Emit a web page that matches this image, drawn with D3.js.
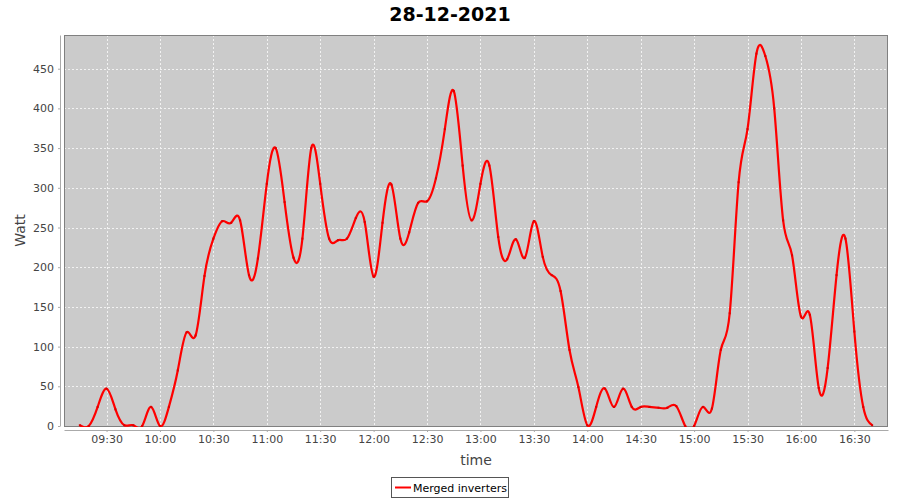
<!DOCTYPE html>
<html>
<head>
<meta charset="utf-8">
<script src="https://cdn.jsdelivr.net/npm/d3@7"></script>
<style>
  body { margin: 0; background: #fff; }
  svg { display: block; font-family: "DejaVu Sans", sans-serif; }
</style>
</head>
<body>
<svg id="chart" width="900" height="500"></svg>
<script>

// 時刻 (5 分おき)
const times = [
  "09:15", "09:20", "09:25", "09:30", "09:35", "09:40", "09:45", "09:50", "09:55",
  "10:00", "10:05", "10:10", "10:15", "10:20", "10:25", "10:30", "10:35", "10:40", "10:45", "10:50", "10:55",
  "11:00", "11:05", "11:10", "11:15", "11:20", "11:25", "11:30", "11:35", "11:40", "11:45", "11:50", "11:55",
  "12:00", "12:05", "12:10", "12:15", "12:20", "12:25", "12:30", "12:35", "12:40", "12:45", "12:50", "12:55",
  "13:00", "13:05", "13:10", "13:15", "13:20", "13:25", "13:30", "13:35", "13:40", "13:45", "13:50", "13:55",
  "14:00", "14:05", "14:10", "14:15", "14:20", "14:25", "14:30", "14:35", "14:40", "14:45", "14:50", "14:55",
  "15:00", "15:05", "15:10", "15:15", "15:20", "15:25", "15:30", "15:35", "15:40", "15:45", "15:50", "15:55",
  "16:00", "16:05", "16:10", "16:15", "16:20", "16:25", "16:30", "16:35", "16:40"
];

// 出力 (Watt)
const watts = [
  1, 0, 24, 47, 21, 1, 1, 0, 24,
  0, 24, 70, 118, 114, 189, 236, 258, 256, 259, 190, 211,
  305, 350, 282, 212, 236, 350, 305, 236, 234, 236, 262, 257,
  188, 256, 304, 236, 244, 281, 283, 312, 374, 422, 328, 259,
  305, 328, 238, 210, 235, 212, 258, 213, 190, 170, 96, 49,
  1, 24, 47, 24, 47, 24, 24, 24, 23, 23, 25, 0,
  0, 24, 22, 96, 142, 307, 374, 469, 466, 400, 259, 215,
  138, 140, 48, 73, 190, 236, 119, 24, 1
];

// 目盛り
const yTicks = [0, 50, 100, 150, 200, 250, 300, 350, 400, 450];

const title = "28-12-2021";
const seriesName = "Merged inverters";
const day = "2021-12-28";

const parse = d3.timeParse("%Y-%m-%d %H:%M");
const data = times.map((t, i) => ({ t: parse(`${day} ${t}`), v: watts[i] }));

const svg = d3.select("#chart");

// プロット領域
const pl = 64, pr = 888, pt = 35, pb = 426;

// x 方向は両端に 2% の余白
const t0 = data[0].t, t1 = data[data.length - 1].t;
const span = t1 - t0;
const x = d3.scaleTime()
  .domain([new Date(+t0 - span * 0.02), new Date(+t1 + span * 0.02)])
  .range([pl, pr]);

const y = d3.scaleLinear()
  .domain([0, d3.max(watts) * 1.05])
  .range([pb, pt]);

// 背景
svg.append("rect")
  .attr("x", pl).attr("y", pt)
  .attr("width", pr - pl).attr("height", pb - pt)
  .attr("fill", "#cbcbcb");

// グリッド
const xTicks = x.ticks(d3.timeMinute.every(30));
svg.append("g").selectAll("line")
  .data(xTicks)
  .join("line")
  .attr("x1", d => Math.round(x(d)) + 0.5).attr("x2", d => Math.round(x(d)) + 0.5)
  .attr("y1", pt).attr("y2", pb)
  .attr("stroke", "#f2f2f2").attr("stroke-width", 1)
  .attr("stroke-dasharray", "2,2");

svg.append("g").selectAll("line")
  .data(yTicks.slice(1))
  .join("line")
  .attr("x1", pl).attr("x2", pr)
  .attr("y1", d => Math.round(y(d)) + 0.5).attr("y2", d => Math.round(y(d)) + 0.5)
  .attr("stroke", "#f2f2f2").attr("stroke-width", 1)
  .attr("stroke-dasharray", "2,2");

// 枠
svg.append("rect")
  .attr("x", pl + 0.5).attr("y", pt + 0.5)
  .attr("width", pr - pl - 1).attr("height", pb - pt)
  .attr("fill", "none")
  .attr("stroke", "#808080");

// x 軸
const xAxis = svg.append("g")
  .attr("transform", `translate(0,${pb + 4})`)
  .call(d3.axisBottom(x)
    .ticks(d3.timeMinute.every(30))
    .tickFormat(d3.timeFormat("%H:%M"))
    .tickSizeInner(2).tickSizeOuter(0).tickPadding(3));

// y 軸
const yAxis = svg.append("g")
  .attr("transform", `translate(${pl - 4},0)`)
  .call(d3.axisLeft(y)
    .tickValues(yTicks)
    .tickSizeInner(2).tickSizeOuter(0).tickPadding(4));

[xAxis, yAxis].forEach(a => {
  a.select(".domain").attr("stroke", "#aaaaaa");
  a.selectAll(".tick line").attr("stroke", "#aaaaaa");
  a.selectAll(".tick text")
    .attr("fill", "#444444")
    .attr("font-size", "11px")
    .attr("font-family", "DejaVu Sans, sans-serif");
});

// 折れ線 (スプライン)
const line = d3.line()
  .x(d => x(d.t))
  .y(d => y(d.v))
  .curve(d3.curveNatural);

svg.append("defs").append("clipPath")
  .attr("id", "plotClip")
  .append("rect")
  .attr("x", pl).attr("y", pt)
  .attr("width", pr - pl).attr("height", pb - pt + 1);

svg.append("path")
  .datum(data)
  .attr("clip-path", "url(#plotClip)")
  .attr("d", line)
  .attr("fill", "none")
  .attr("stroke", "#ff0000")
  .attr("stroke-width", 2.2)
  .attr("stroke-linejoin", "round");

// 点
svg.append("g").selectAll("rect")
  .data(data)
  .join("rect")
  .attr("x", d => x(d.t) - 1).attr("y", d => y(d.v) - 1)
  .attr("width", 2).attr("height", 2)
  .attr("fill", "#dd0000");

// タイトル
svg.append("text")
  .attr("x", 450).attr("y", 21)
  .attr("text-anchor", "middle")
  .attr("font-size", "19px")
  .attr("font-weight", "bold")
  .attr("fill", "#000")
  .text(title);

// 軸ラベル
svg.append("text")
  .attr("x", (pl + pr) / 2).attr("y", 465)
  .attr("text-anchor", "middle")
  .attr("font-size", "14px")
  .attr("fill", "#444444")
  .text("time");

svg.append("text")
  .attr("transform", `translate(25,${(pt + pb) / 2}) rotate(-90)`)
  .attr("text-anchor", "middle")
  .attr("font-size", "14px")
  .attr("fill", "#444444")
  .text("Watt");

// レジェンド
const lg = svg.append("g").attr("class", "legend");
lg.append("rect")
  .attr("x", 391.5).attr("y", 477.5)
  .attr("width", 117).attr("height", 20)
  .attr("fill", "#fff")
  .attr("stroke", "#555555");
lg.append("line")
  .attr("x1", 395).attr("x2", 411)
  .attr("y1", 487.5).attr("y2", 487.5)
  .attr("stroke", "#ff0000").attr("stroke-width", 2);
lg.append("text")
  .attr("x", 413).attr("y", 491.5)
  .attr("font-size", "11px")
  .attr("fill", "#000")
  .text(seriesName);

</script>
</body>
</html>
